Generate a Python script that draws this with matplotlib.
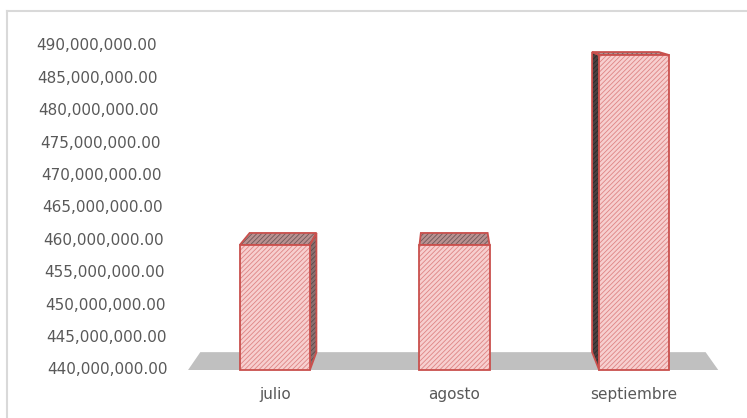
import matplotlib.pyplot as plt
from matplotlib.patches import Polygon
from matplotlib.lines import Line2D

# Data
meses = ["julio", "agosto", "septiembre"]
montos = [459_300_000, 459_300_000, 488_600_000]
y_ticks = list(range(440_000_000, 490_000_001, 5_000_000))

Y_MIN, Y_MAX = 440_000_000, 490_000_000
BAR_W = 0.39
# perspective: back points are pulled toward a vanishing point
VP = (0.97, 498_600_000)
DEPTH = 0.047

FRONT = "#F7CFCF"
HATCH = "#DE8585"
EDGE = "#C9504D"
TXT = "#595959"

plt.rcParams["hatch.linewidth"] = 0.6
plt.rcParams["font.family"] = "DejaVu Sans"

fig = plt.figure(figsize=(7.47, 4.18), dpi=100)
AX_L, AX_W = 185, 539
ax = fig.add_axes([AX_L / 747, 48 / 418, AX_W / 747, 324 / 418])
ax.set_xlim(-0.5, 2.5)
ax.set_ylim(Y_MIN, Y_MAX)


def back(x, y):
    return (x + DEPTH * (VP[0] - x), y + DEPTH * (VP[1] - y))


def face(pts, fc, hc, zorder):
    ax.add_patch(Polygon(pts, closed=True, facecolor=fc, edgecolor=hc,
                         hatch="///////", linewidth=0, clip_on=False, zorder=zorder))
    ax.add_patch(Polygon(pts, closed=True, fill=False, edgecolor=EDGE,
                         linewidth=1.3, clip_on=False, zorder=zorder + 0.1))


# floor
x0, x1 = -0.483, 2.468
floor = [(x0, Y_MIN), (x1, Y_MIN), back(x1, Y_MIN), back(x0, Y_MIN)]
ax.add_patch(Polygon(floor, closed=True, facecolor="#C0C0C0", edgecolor="none",
                     clip_on=False, zorder=1))

for i, v in enumerate(montos):
    left, right = i - BAR_W / 2, i + BAR_W / 2
    # side face (the one visible from the vanishing point)
    if i < VP[0] - 0.2:
        side = [(right, Y_MIN), (right, v), back(right, v), back(right, Y_MIN)]
        face(side, "#8A7070", "#5A4A4A", 2)
    elif i > VP[0] + 0.2:
        side = [(left, Y_MIN), (left, v), back(left, v), back(left, Y_MIN)]
        face(side, "#4A4040", "#2E2828", 2)
    # top face
    top = [(left, v), (right, v), back(right, v), back(left, v)]
    face(top, "#B89090", "#6E5858", 2)
    # front face
    ax.bar(i, v - Y_MIN, bottom=Y_MIN, width=BAR_W, color=FRONT, edgecolor=HATCH,
           hatch="///////", linewidth=0, zorder=3, clip_on=False)
    ax.bar(i, v - Y_MIN, bottom=Y_MIN, width=BAR_W, fill=False, edgecolor=EDGE,
           linewidth=1.3, zorder=3.1, clip_on=False)

ax.set_xticks(range(len(meses)))
ax.set_xticklabels(meses)
ax.tick_params(axis="x", length=0, labelsize=11, labelcolor=TXT, pad=12)

# value labels lean with the perspective, so they are placed by hand
ax.set_yticks([])
for t in y_ticks:
    frac = (t - Y_MIN) / (Y_MAX - Y_MIN)
    right_px = 168 - 11 * frac
    ax.text((right_px - AX_L) / AX_W, t, f"{t:,.2f}", transform=ax.get_yaxis_transform(),
            ha="right", va="center", fontsize=11, color=TXT, clip_on=False)

for s in ax.spines.values():
    s.set_visible(False)

# chart area border
fig.add_artist(Line2D([7 / 747, 1], [1 - 11 / 418, 1 - 11 / 418], color="#D9D9D9", lw=1.5))
fig.add_artist(Line2D([7 / 747, 7 / 747], [0, 1 - 11 / 418], color="#D9D9D9", lw=1.5))

fig.savefig("out.png", dpi=100)
